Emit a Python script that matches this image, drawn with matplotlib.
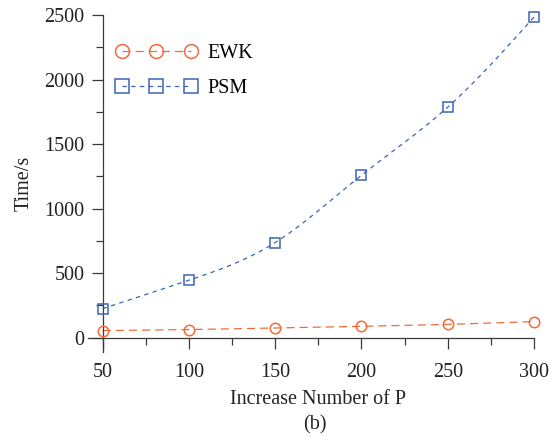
import numpy as np
import matplotlib.pyplot as plt
from matplotlib.ticker import MultipleLocator

plt.rcParams['font.family'] = ['Liberation Serif', 'DejaVu Serif']

# data
num_p = [50, 100, 150, 200, 250, 300]
ewk = [55, 63, 75, 88, 103, 125]
psm = [225, 445, 737, 1258, 1786, 2484]

c_ewk = '#F26B3A'
c_psm = '#3D63B8'


def smooth(x, y, n=200):
    # natural cubic spline, only used to draw the connecting curve
    x = np.asarray(x, float)
    y = np.asarray(y, float)
    h = np.diff(x)
    k = len(x)
    A = np.zeros((k, k))
    b = np.zeros(k)
    A[0, 0] = A[-1, -1] = 1
    for i in range(1, k - 1):
        A[i, i - 1] = h[i - 1]
        A[i, i] = 2 * (h[i - 1] + h[i])
        A[i, i + 1] = h[i]
        b[i] = 6 * ((y[i + 1] - y[i]) / h[i] - (y[i] - y[i - 1]) / h[i - 1])
    m = np.linalg.solve(A, b)
    xs = np.linspace(x[0], x[-1], n)
    idx = np.clip(np.searchsorted(x, xs) - 1, 0, k - 2)
    t0 = xs - x[idx]
    t1 = x[idx + 1] - xs
    hh = h[idx]
    ys = (m[idx] * t1 ** 3 + m[idx + 1] * t0 ** 3) / (6 * hh) \
        + (y[idx] / hh - m[idx] * hh / 6) * t1 \
        + (y[idx + 1] / hh - m[idx + 1] * hh / 6) * t0
    return xs, ys


fig = plt.figure(figsize=(5.59, 4.36), dpi=100)
ax = fig.add_axes([88 / 559, 1 - 352 / 436, 446 / 559, 337 / 436])

spine_c = '#3a3a3a'
fs = 14.5
for nm, c, mk, dash, data in [('EWK', c_ewk, 'o', (6.5, 4), ewk),
                              ('PSM', c_psm, 's', (3.5, 3.5), psm)]:
    xs, ys = smooth(num_p, data)
    ax.plot(xs, ys, color=c, lw=0.9, dashes=dash, clip_on=False)
    ax.plot(num_p, data, ls='none', marker=mk, ms=7.5, mfc='none',
            mec=c, mew=1.1, clip_on=False, zorder=3)
    # legend proxy
    ax.plot([], [], color=c, lw=0.9, dashes=dash, marker=mk, ms=10,
            mfc='none', mec=c, mew=1.1, label=nm)

ax.set_xlim(41.5, 300)
ax.set_ylim(-111, 2500)
ax.spines['top'].set_visible(False)
ax.spines['right'].set_visible(False)
ax.spines['left'].set_position(('data', 50))
ax.spines['bottom'].set_position(('data', 0))
for s in ('left', 'bottom'):
    ax.spines[s].set_color(spine_c)
    ax.spines[s].set_linewidth(0.9)

ax.set_xticks(num_p)
ax.set_yticks([0, 500, 1000, 1500, 2000, 2500])
ax.xaxis.set_minor_locator(MultipleLocator(25))
ax.yaxis.set_minor_locator(MultipleLocator(250))
ax.tick_params(which='major', direction='out', length=8, width=0.9,
               color=spine_c, labelsize=fs, labelcolor='#222222')
ax.tick_params(axis='x', which='major', pad=10)
ax.tick_params(axis='y', which='major', pad=5)
ax.tick_params(which='minor', direction='out', length=5, width=0.9,
               color=spine_c)

ax.set_xlabel('Increase Number of P', fontsize=fs, color='#222222')
ax.xaxis.set_label_coords(0.516, -0.113)
ax.set_ylabel('Time/s', fontsize=fs, color='#222222', labelpad=8)
fig.text(315 / 559, 1 - 425 / 436, '(b)', fontsize=fs, color='#222222',
         ha='center', va='center')

ax.legend(loc='upper left', bbox_to_anchor=(116 / 559, 1 - 44 / 436),
          bbox_transform=fig.transFigure, frameon=False, numpoints=3,
          handlelength=4.0, handletextpad=0.55, borderpad=0,
          borderaxespad=0, labelspacing=0.8, fontsize=fs)

fig.savefig('out.png', dpi=100)
